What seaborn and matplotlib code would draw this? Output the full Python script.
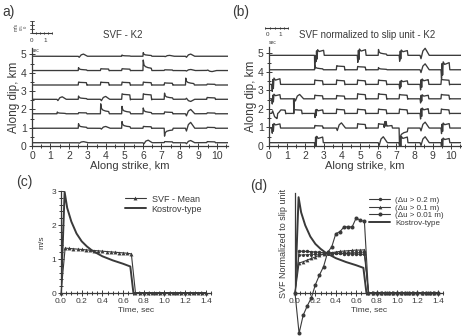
import numpy as np
import pandas as pd
import matplotlib
matplotlib.use("Agg")
import matplotlib.pyplot as plt
from matplotlib.ticker import MultipleLocator
from matplotlib.lines import Line2D
import seaborn as sns

sns.set_theme(style="white")
plt.rcParams['font.family'] = ['Liberation Sans', 'DejaVu Sans']

INK = '#3a3a3a'

# ---------------- data: panels (a) and (b) ----------------
row_base = [0.18, 0.97, 1.76, 2.55, 3.33, 4.12, 4.90]

# pulse shape templates (offset along strike in km, normalised value)
shape_dx = {
    'b': [0, 0.02, 0.08, 0.44, 0.47, 0.50],
    'k': [0, 0.015, 0.05, 0.12, 0.25, 0.45, 0.48],
    'h': [0, 0.05, 0.15, 0.28, 0.42, 0.50],
    'j': [0, 0.03, 0.06, 0.09, 0.12, 0.20, 0.32, 0.45, 0.48],
    's': [0, 0.01, 0.03, 0.05],
}
shape_v = {
    'b': [0, 1.0, 0.9, 0.8, -0.1, 0],
    'k': [0, 1.0, 0.55, 0.38, 0.28, 0.22, 0],
    'h': [0, -0.5, 0.6, 1.0, 0.4, 0],
    'j': [0, -1.0, 0.8, -0.6, 0.9, 0.6, 0.7, 0.8, 0],
    's': [0, 1.0, 0.2, 0],
}

# pulses per row (bottom to top): (position km, amplitude km, shape)
pulses_a = [
    [(2.5, 0.06, 'h'), (6.0, 0.14, 'h'), (7.15, 0.06, 'b'), (8.3, 0.12, 'h'), (9.45, 0.06, 'b')],
    [(2.5, 0.25, 'k'), (3.7, 0.1, 'h'), (4.85, 0.38, 'k'), (6.0, 0.1, 'b'), (7.15, -0.45, 'k'),
     (8.3, 0.32, 'h'), (9.45, 0.05, 'b')],
    [(1.35, 0.1, 'k'), (2.5, 0.06, 'b'), (3.7, 0.55, 'k'), (4.85, 0.42, 'k'), (6.0, 0.32, 'k'),
     (7.15, 0.1, 'b'), (8.3, 0.24, 'h'), (9.45, 0.05, 'b')],
    [(1.35, 0.14, 'h'), (2.5, 0.18, 'k'), (3.7, 0.16, 'h'), (4.85, 0.3, 'b'), (6.0, 0.3, 'b'),
     (7.15, 0.35, 'k'), (8.3, -0.12, 'h'), (9.45, 0.1, 'b')],
    [(2.5, 0.16, 'b'), (3.7, 0.16, 'b'), (4.85, 0.16, 'b'), (6.0, 0.16, 'b'), (7.15, 0.12, 'b'),
     (8.3, 0.38, 'k'), (9.45, 0.05, 'b')],
    [(2.5, 0.16, 'k'), (3.7, 0.1, 'b'), (4.85, 0.1, 'b'), (6.0, 0.58, 'k'), (7.15, 0.04, 'b'),
     (8.3, 0.06, 'h'), (9.45, -0.06, 'h')],
    [(2.5, 0.12, 'h'), (4.85, 0.07, 'k'), (6.0, 0.2, 'k'), (7.15, 0.05, 'h'), (8.3, 0.12, 'h')],
]

pulses_b = [
    [(2.5, 0.38, 'j'), (6.0, 0.32, 'h'), (7.15, 0.38, 'j'), (8.3, 0.32, 'h'), (9.45, 0.28, 'j')],
    [(0.15, 0.28, 'j'), (2.5, 0.14, 'b'), (3.7, 0.28, 'h'), (4.85, 0.24, 'b'), (6.0, 0.24, 'b'),
     (6.3, 0.18, 'j'), (7.15, -0.9, 'k'), (8.3, 0.32, 'h'), (9.45, 0.3, 'j')],
    [(0.15, -0.28, 'h'), (0.45, 0.22, 'b'), (1.35, 0.22, 'b'), (2.5, 0.24, 'j'), (3.7, 0.24, 'b'),
     (4.85, 0.24, 'b'), (6.0, 0.24, 'b'), (7.15, 0.24, 'b'), (8.3, 0.32, 'j'), (9.45, 0.24, 'b')],
    [(0.15, 0.28, 'j'), (1.35, -0.8, 's'), (1.4, 0.24, 'h'), (2.5, 0.2, 'b'), (3.7, 0.18, 'b'),
     (4.85, 0.28, 'b'), (6.0, 0.28, 'b'), (7.15, 0.24, 'b'), (8.3, 0.24, 'j'), (9.45, 0.24, 'b')],
    [(0.15, 0.38, 'j'), (2.5, 0.24, 'b'), (3.7, 0.24, 'b'), (4.85, 0.24, 'b'), (6.0, 0.24, 'b'),
     (7.15, 0.24, 'j'), (8.3, 0.32, 'j'), (9.45, 0.28, 'b')],
    [(2.5, 0.24, 'k'), (3.7, 0.22, 'b'), (4.85, 0.18, 'b'), (6.0, 0.12, 'k'), (8.3, 0.32, 'h'),
     (9.45, 0.48, 'j')],
    [(2.5, -0.8, 's'), (2.55, 0.34, 'j'), (4.85, 0.38, 'j'), (6.0, 0.32, 'k'), (7.15, 0.32, 'j'),
     (8.3, 0.38, 'h')],
]

# ---------------- data: panel (c) ----------------
t_grid = [round(0.04 * i, 2) for i in range(36)]
svf_mean = [0, 1.32, 1.31, 1.30, 1.29, 1.28, 1.27, 1.26, 1.25, 1.24, 1.23, 1.22, 1.21, 1.20,
            1.19, 1.18, 1.17, 1.15] + [0] * 18
t_kostrov = [0, 0.035, 0.06, 0.10, 0.15, 0.20, 0.25, 0.30, 0.40, 0.50, 0.60, 0.67, 0.70, 1.40]
kostrov = [0, 2.97, 2.50, 2.10, 1.75, 1.52, 1.37, 1.25, 1.08, 0.96, 0.86, 0.78, 0, 0]

# ---------------- data: panel (d) ----------------
d_02 = [0, 1.30, 1.29, 1.29, 1.28, 1.27, 1.26, 1.25, 1.24, 1.24, 1.23, 1.23, 1.22, 1.22,
        1.21, 1.21, 1.20, 1.20] + [0] * 18
d_01 = [0, 0.93, 0.97, 1.02, 1.07, 1.12, 1.17, 1.20, 1.23, 1.25, 1.27, 1.29, 1.30, 1.31,
        1.32, 1.33, 1.33, 1.34] + [0] * 18
d_001 = [0, -1.25, -0.69, -0.40, -0.15, 0.26, 0.56, 0.82, 1.26, 1.43, 1.84, 1.90, 2.05, 2.05,
         2.05, 2.33, 2.25, 2.22] + [0] * 18
d_extra = [0, 1.18, 1.18, 1.19, 1.19, 1.20, 1.20, 1.21, 1.22, 1.22, 1.23, 1.23, 1.24, 1.24,
           1.25, 1.25, 1.26, 1.27] + [0] * 18

# ---------------- figure ----------------
W, H = 462, 336
fig = plt.figure(figsize=(W / 100, H / 100), dpi=100)
fig.patch.set_facecolor('white')


def ax_px(l, t, r, b):
    return fig.add_axes([l / W, 1 - b / H, (r - l) / W, (b - t) / H])


def fx(x):
    return x / W


def fy(y):
    return 1 - y / H


def style(ax, fs=7):
    for s in ['top', 'right']:
        ax.spines[s].set_visible(False)
    for s in ['left', 'bottom']:
        ax.spines[s].set_color(INK)
        ax.spines[s].set_linewidth(0.9)
    ax.tick_params(axis='both', which='both', colors=INK, labelcolor=INK, labelsize=fs,
                   width=0.7, pad=1.5, bottom=True, left=True)
    ax.set_facecolor('white')


def traces_frame(pulses):
    xs = np.arange(0, 10.6, 0.004)
    frames = []
    for i, (base, plist) in enumerate(zip(row_base, pulses)):
        y = np.full_like(xs, base)
        for (x0, amp, kind) in plist:
            y = y + amp * np.interp(xs - x0, shape_dx[kind], shape_v[kind], left=0, right=0)
        frames.append(pd.DataFrame({'x': xs, 'y': y, 'row': i}))
    return pd.concat(frames, ignore_index=True)


def top_panel(ax, pulses, xmax):
    df = traces_frame(pulses)
    df = df[df.x <= xmax]
    sns.lineplot(data=df, x='x', y='y', units='row', estimator=None, sort=False,
                 color=INK, lw=0.95, ax=ax, legend=False)
    style(ax, 7.5)
    ax.set_xlim(0, xmax)
    ax.set_ylim(0, 5.35)
    ax.xaxis.set_minor_locator(MultipleLocator(0.5))
    ax.yaxis.set_minor_locator(MultipleLocator(0.5))
    ax.set_xticks(range(0, 11))
    ax.set_yticks(range(0, 6))
    ax.tick_params(axis='both', which='major', direction='inout', length=4.5)
    ax.tick_params(axis='both', which='minor', direction='inout', length=3)
    ax.set_xlabel('Along strike, km', fontsize=8, color=INK, labelpad=0)
    ax.set_ylabel('Along dip, km', fontsize=8.5, color=INK, labelpad=1)


axA = ax_px(32, 48, 228, 146)
top_panel(axA, pulses_a, 10.6)
axB = ax_px(269, 47, 461, 146)
top_panel(axB, pulses_b, 10.55)

fig.text(fx(123), fy(35), 'SVF - K2', fontsize=7, color=INK, ha='center', va='center')
fig.text(fx(367), fy(35), 'SVF normalized to slip unit - K2', fontsize=7, color=INK,
         ha='center', va='center')
fig.text(fx(2), fy(12), 'a)', fontsize=10, color=INK, ha='left', va='center')
fig.text(fx(232), fy(12), '(b)', fontsize=10, color=INK, ha='left', va='center')


# scale bars (decoration)
def seg(x0, y0, x1, y1, lw=0.8):
    fig.add_artist(Line2D([fx(x0), fx(x1)], [fy(y0), fy(y1)], color=INK, lw=lw))


seg(32, 21, 32, 33)
for yy in (21, 25, 29, 33):
    seg(30, yy, 34, yy, 0.6)
seg(32, 33, 52, 33)
for xx in (36, 40, 44, 48, 52):
    seg(xx, 32, xx, 34, 0.5)
fig.text(fx(16), fy(27), 'm/s', fontsize=3.5, color=INK, rotation=90, ha='center', va='center')
fig.text(fx(24), fy(27), '0.5\n0', fontsize=3, color=INK, rotation=90, ha='center', va='center')
fig.text(fx(32), fy(41), '0', fontsize=4.5, color=INK, ha='center', va='center')
fig.text(fx(45), fy(41), '1', fontsize=4.5, color=INK, ha='center', va='center')
fig.text(fx(36), fy(50), 'sec', fontsize=3.5, color=INK, ha='center', va='center')

seg(265, 28, 288, 28)
for xx in (265, 270, 275, 280, 284, 288):
    seg(xx, 27, xx, 29, 0.5)
fig.text(fx(267), fy(35), '0', fontsize=4.5, color=INK, ha='center', va='center')
fig.text(fx(280), fy(35), '1', fontsize=4.5, color=INK, ha='center', va='center')
fig.text(fx(273), fy(43), 'sec', fontsize=3.5, color=INK, ha='center', va='center')

# ---------------- panel (c) ----------------
axC = ax_px(61, 191, 211, 293)
dfc = pd.DataFrame({'t': t_grid, 'v': svf_mean})
dfk = pd.DataFrame({'t': t_kostrov, 'v': kostrov})
sns.lineplot(data=dfc, x='t', y='v', ax=axC, color=INK, lw=0.8, marker='^', markersize=2.8,
             markeredgewidth=0, estimator=None, sort=False, label='SVF - Mean', clip_on=False)
sns.lineplot(data=dfk, x='t', y='v', ax=axC, color=INK, lw=1.4, estimator=None, sort=False,
             label='Kostrov-type')
style(axC, 6)
axC.set_xlim(0, 1.45)
axC.set_ylim(0, 3)
axC.xaxis.set_minor_locator(MultipleLocator(0.05))
axC.yaxis.set_major_locator(MultipleLocator(1))
axC.yaxis.set_minor_locator(MultipleLocator(0.2))
axC.set_xticks([0, 0.2, 0.4, 0.6, 0.8, 1.0, 1.2, 1.4])
axC.set_xticklabels(['0.0', '0.2', '0.4', '0.6', '0.8', '1.0', '1.2', '1.4'])
axC.tick_params(axis='both', which='major', direction='inout', length=4)
axC.tick_params(axis='both', which='minor', direction='inout', length=2.5)
axC.set_xlabel('Time, sec', fontsize=6, color=INK, labelpad=1)
axC.set_ylabel('m/s', fontsize=6, color=INK, labelpad=4)
axC.legend(loc='upper left', bbox_to_anchor=(0.4, 1.0), frameon=False, fontsize=6.5,
           handlelength=2.4, labelspacing=0.1, borderaxespad=0, handletextpad=0.6,
           labelcolor=INK)
fig.text(fx(16), fy(182), '(c)', fontsize=10, color=INK, ha='left', va='center')

# ---------------- panel (d) ----------------
axD = ax_px(295, 193, 443, 293)
sns.lineplot(x=t_grid, y=d_02, ax=axD, color=INK, lw=0.8, marker='o', markersize=2.5,
             markeredgewidth=0, estimator=None, sort=False, label='(Δu > 0.2 m)', clip_on=False)
sns.lineplot(x=t_grid, y=d_01, ax=axD, color=INK, lw=0.8, marker='^', markersize=2.7,
             markeredgewidth=0, estimator=None, sort=False, label='(Δu > 0.1 m)', clip_on=False)
sns.lineplot(x=t_grid, y=d_001, ax=axD, color=INK, lw=0.8, marker='o', markersize=2.9,
             markeredgewidth=0, estimator=None, sort=False, label='(Δu > 0.01 m)', clip_on=False)
sns.lineplot(x=t_grid, y=d_extra, ax=axD, color=INK, lw=0.6, marker='o', markersize=2.2,
             markeredgewidth=0, estimator=None, sort=False, label='_nolegend_', clip_on=False)
sns.lineplot(x=t_kostrov, y=kostrov, ax=axD, color=INK, lw=1.4, estimator=None, sort=False,
             label='Kostrov-type')
style(axD, 6)
axD.set_xlim(0, 1.45)
axD.set_ylim(0, 3.1)
axD.set_xticks([0, 0.2, 0.4, 0.6, 0.8, 1.0, 1.2, 1.4])
axD.set_xticklabels(['0.0', '0.2', '0.4', '0.6', '0.8', '1.0', '1.2', '1.4'])
axD.xaxis.set_minor_locator(MultipleLocator(0.05))
axD.set_yticks([])
axD.tick_params(axis='y', which='both', left=False)
axD.tick_params(axis='x', which='major', direction='inout', length=4)
axD.tick_params(axis='x', which='minor', direction='inout', length=2.5)
axD.set_xlabel('Time, sec', fontsize=6, color=INK, labelpad=1)
axD.set_ylabel('SVF Normalized to slip unit', fontsize=6.5, color=INK, labelpad=5)
axD.legend(loc='upper left', bbox_to_anchor=(0.48, 1.0), frameon=False, fontsize=5.8,
           handlelength=2.6, labelspacing=0.0, borderaxespad=0, handletextpad=0.6,
           labelcolor=INK)
fig.text(fx(250), fy(186), '(d)', fontsize=10, color=INK, ha='left', va='center')

fig.savefig('out.png', dpi=100, facecolor='white')
